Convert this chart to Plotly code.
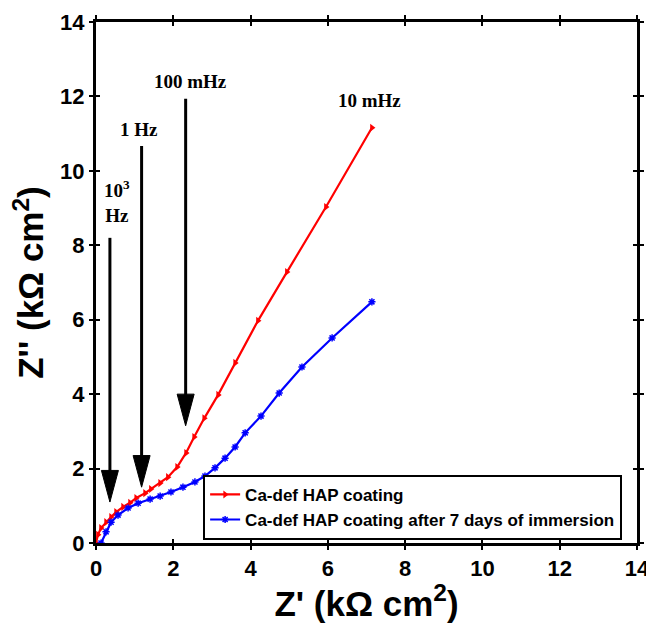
import plotly.graph_objects as go

# Red series: Ca-def HAP coating
red_x = [0.0, 0.05, 0.13, 0.26, 0.39, 0.52, 0.70, 0.88, 1.04, 1.27, 1.42, 1.66, 1.86,
         2.10, 2.33, 2.54, 2.80, 3.16, 3.60, 4.19, 4.94, 5.95, 7.14]
red_y = [0.0, 0.22, 0.40, 0.56, 0.70, 0.83, 0.97, 1.08, 1.21, 1.34, 1.45, 1.61, 1.77,
         2.04, 2.42, 2.85, 3.35, 3.98, 4.84, 5.97, 7.28, 9.03, 11.16]

# Blue series: after 7 days of immersion
blue_x = [0.13, 0.26, 0.39, 0.57, 0.83, 1.09, 1.40, 1.66, 1.94, 2.25, 2.56, 2.82, 3.08,
          3.34, 3.60, 3.86, 4.27, 4.74, 5.33, 6.11, 7.14]
blue_y = [0.0, 0.30, 0.56, 0.75, 0.94, 1.07, 1.18, 1.26, 1.37, 1.50, 1.64, 1.80, 2.02,
          2.28, 2.58, 2.96, 3.41, 4.03, 4.73, 5.51, 6.48]

# Frequency arrows
arrow_x = [0.36, 1.18, 2.32]
arrow_top = [8.2, 10.67, 11.94]
arrow_tip = [1.10, 1.50, 3.15]

# Frequency labels
label_text = ["10<sup>3</sup><br>Hz", "1 Hz", "100 mHz", "10 mHz"]
label_x = [0.54, 1.10, 2.45, 7.09]
label_y = [9.17, 11.1, 12.39, 11.9]

ticks = [0, 2, 4, 6, 8, 10, 12, 14]

fig = go.Figure()
fig.add_trace(go.Scatter(
    x=red_x, y=red_y, mode="lines+markers", name="Ca-def HAP coating",
    line=dict(color="#ff0000", width=2.2),
    marker=dict(symbol="triangle-right", size=7, color="#ff0000")))
fig.add_trace(go.Scatter(
    x=blue_x, y=blue_y, mode="lines+markers",
    name="Ca-def HAP coating after 7 days of immersion",
    line=dict(color="#0000ff", width=2.2),
    marker=dict(symbol="asterisk-open", size=6, color="#0000ff",
                line=dict(color="#0000ff", width=1.5))))
# invisible trace on overlay axes (inside ticks)
fig.add_trace(go.Scatter(x=[None], y=[None], xaxis="x2", yaxis="y2",
                         showlegend=False, hoverinfo="skip"))

# arrows: shaft + filled head
head_w = 0.22  # half width in x units
head_l = 0.85  # length in y units
for xa, yt, yb in zip(arrow_x, arrow_top, arrow_tip):
    fig.add_shape(type="line", x0=xa, x1=xa, y0=yt, y1=yb + head_l * 0.5,
                  line=dict(color="black", width=3))
    fig.add_shape(type="path",
                  path=f"M {xa - head_w} {yb + head_l} L {xa + head_w} {yb + head_l} L {xa} {yb} Z",
                  fillcolor="black", line=dict(color="black", width=1))

for t, xl, yl in zip(label_text, label_x, label_y):
    fig.add_annotation(x=xl, y=yl, text=t, showarrow=False,
                       font=dict(family="Liberation Serif", size=19, color="black",
                                 weight="bold"),
                       xanchor="center", yanchor="middle")

axis_common = dict(range=[0, 14], tickvals=ticks, showgrid=False, zeroline=False,
                   showline=True, linecolor="black", linewidth=3, mirror="ticks",
                   ticks="outside", ticklen=4, tickwidth=2, tickcolor="black",
                   automargin=False, ticklabeloverflow="allow",
                   tickfont=dict(family="Liberation Sans", size=22, color="black",
                                 weight="bold"))

fig.update_layout(
    width=646, height=623,
    margin=dict(l=96, r=9, t=22, b=80),
    paper_bgcolor="white", plot_bgcolor="white",
    xaxis=dict(**axis_common,
               title=dict(text="Z' (kΩ cm<sup>2</sup>)", standoff=3,
                          font=dict(family="Liberation Sans", size=35, color="black",
                                    weight="bold"))),
    yaxis=dict(**axis_common,
               title=dict(text="Z'' (kΩ cm<sup>2</sup>)", standoff=6,
                          font=dict(family="Liberation Sans", size=35, color="black",
                                    weight="bold"))),
    xaxis2=dict(range=[0, 14], tickvals=ticks, overlaying="x", side="bottom",
                showgrid=False, zeroline=False, showline=False, showticklabels=False,
                ticks="inside", ticklen=4, tickwidth=2, tickcolor="black", mirror="ticks",
                automargin=False),
    yaxis2=dict(range=[0, 14], tickvals=ticks, overlaying="y", side="left",
                showgrid=False, zeroline=False, showline=False, showticklabels=False,
                ticks="inside", ticklen=4, tickwidth=2, tickcolor="black", mirror="ticks",
                automargin=False),
    legend=dict(x=0.198, y=0.006, xanchor="left", yanchor="bottom",
                bgcolor="white", bordercolor="black", borderwidth=2,
                font=dict(family="Liberation Sans", size=17, color="black",
                          weight="bold"),
                tracegroupgap=0, itemwidth=30),
    showlegend=True,
)

fig.write_html("out.html")
